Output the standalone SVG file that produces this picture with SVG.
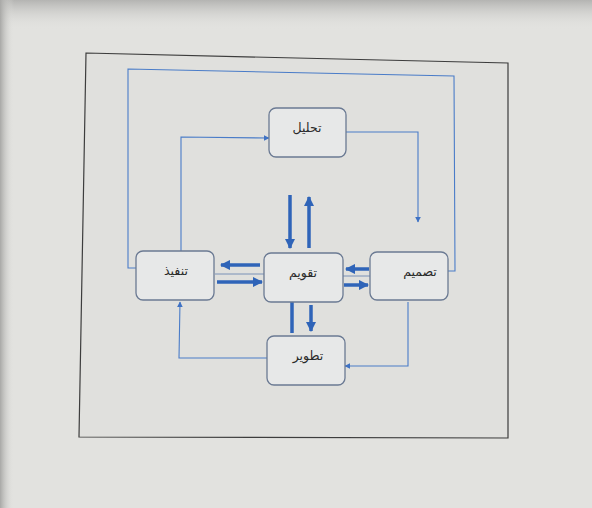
<svg xmlns="http://www.w3.org/2000/svg" width="592" height="508" viewBox="0 0 592 508">
<defs>
<linearGradient id="top" x1="0" y1="0" x2="0" y2="1">
<stop offset="0" stop-color="#b4b4b2"/>
<stop offset="1" stop-color="#e3e3e0" stop-opacity="0"/>
</linearGradient>
<linearGradient id="left" x1="0" y1="0" x2="1" y2="0">
<stop offset="0" stop-color="#a8a8a6"/>
<stop offset="1" stop-color="#e3e3e0" stop-opacity="0"/>
</linearGradient>
<marker id="ah" viewBox="0 0 10 10" refX="9" refY="5" markerWidth="6" markerHeight="6" orient="auto" markerUnits="userSpaceOnUse">
<path d="M0,0 L10,5 L0,10 z" fill="#3f72c4"/>
</marker>
<marker id="ahb" viewBox="0 0 10 10" refX="9" refY="5" markerWidth="3" markerHeight="3" orient="auto">
<path d="M0,0 L10,5 L0,10 z" fill="#2f64b8"/>
</marker>
</defs>
<style>
.node rect{fill:#e7e8e8;stroke:#6b7a93;stroke-width:1.3}
.node text{font-family:"DejaVu Sans",sans-serif;font-size:12.5px;fill:#2a2a2a;text-anchor:middle;dominant-baseline:central}
.thin{fill:none;stroke:#4a7cc8;stroke-width:1.1}
.thick{fill:none;stroke:#2f64b8;stroke-width:3.5}
.hair{fill:none;stroke:#5f7fae;stroke-width:0.8}
</style>
<rect width="592" height="508" fill="#e2e2df"/>
<rect width="592" height="30" fill="url(#top)"/>
<rect width="14" height="508" fill="url(#left)"/>
<polygon points="86,53 508,63 508,438 79,437" fill="#e0e0dd" stroke="#3d3d3d" stroke-width="1.2"/>
<g id="connectors">
<polyline class="thin" points="448,271 455,271 454,76 128,69 128,268 136,268"/>
<polyline class="thin" points="346,132 418,132 418,222" marker-end="url(#ah)"/>
<polyline class="thin" points="181,251 181,137 269,138" marker-end="url(#ah)"/>
<polyline class="thin" points="408,302 408,366 345,366" marker-end="url(#ah)"/>
<polyline class="thin" points="267,358 179,358 180,302" marker-end="url(#ah)"/>
<line class="thick" x1="290" y1="195" x2="290" y2="248" marker-end="url(#ahb)"/>
<line class="thick" x1="309" y1="248" x2="309" y2="197" stroke-width="3" marker-end="url(#ahb)"/>
<line class="thick" x1="292" y1="302" x2="292" y2="333"/>
<line class="thick" x1="311" y1="305" x2="311" y2="331" stroke-width="3" marker-end="url(#ahb)"/>
<line class="thick" x1="260" y1="265" x2="221" y2="265" marker-end="url(#ahb)"/>
<line class="hair" x1="215" y1="274" x2="264" y2="274"/>
<line class="thick" x1="217" y1="282" x2="262" y2="282" marker-end="url(#ahb)"/>
<line class="thick" x1="369" y1="269" x2="346" y2="269" marker-end="url(#ahb)"/>
<line class="hair" x1="343" y1="276" x2="370" y2="276"/>
<line class="thick" x1="344" y1="285" x2="368" y2="285" marker-end="url(#ahb)"/>
</g>
<g id="n-analysis" class="node"><rect x="269" y="108" width="77" height="49" rx="7"/><text x="307" y="127">تحليل</text></g>
<g id="n-implementation" class="node"><rect x="136" y="251" width="78" height="49" rx="7"/><text x="176" y="270">تنفيذ</text></g>
<g id="n-evaluation" class="node"><rect x="264" y="253" width="79" height="49" rx="7"/><text x="303" y="272">تقويم</text></g>
<g id="n-design" class="node"><rect x="370" y="252" width="78" height="48" rx="7"/><text x="420" y="271">تصميم</text></g>
<g id="n-development" class="node"><rect x="267" y="336" width="78" height="49" rx="7"/><text x="308" y="355">تطوير</text></g>
</svg>
